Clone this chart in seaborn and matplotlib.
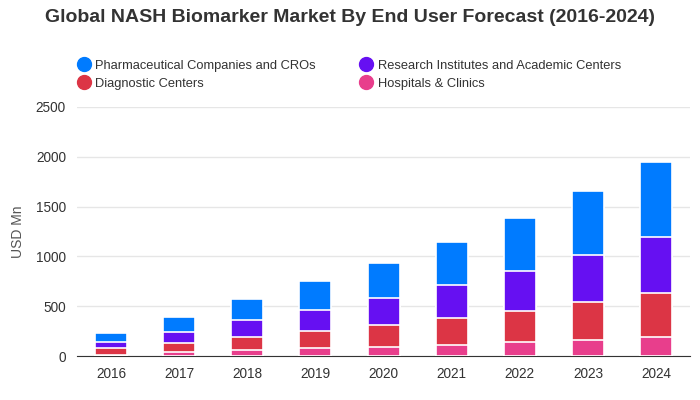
import matplotlib.pyplot as plt
import seaborn as sns
import pandas as pd
from matplotlib.lines import Line2D

years = ["2016", "2017", "2018", "2019", "2020", "2021", "2022", "2023", "2024"]
hospitals = [15, 37, 60, 77, 87, 107, 137, 158, 188]
diagnostic = [65, 90, 128, 174, 221, 271, 315, 381, 442]
research = [57, 111, 170, 208, 271, 332, 404, 478, 562]
pharma = [97, 154, 214, 294, 355, 435, 530, 640, 756]

series = ["Hospitals & Clinics", "Diagnostic Centers",
          "Research Institutes and Academic Centers", "Pharmaceutical Companies and CROs"]
colors = {"Hospitals & Clinics": "#E83E8C", "Diagnostic Centers": "#DC3545",
          "Research Institutes and Academic Centers": "#6610F2",
          "Pharmaceutical Companies and CROs": "#007BFF"}

df = pd.DataFrame({"year": years, "Hospitals & Clinics": hospitals,
                   "Diagnostic Centers": diagnostic,
                   "Research Institutes and Academic Centers": research,
                   "Pharmaceutical Companies and CROs": pharma})
cum = df[series].cumsum(axis=1)
cum["year"] = years

sns.set_style("white")
plt.rcParams["font.family"] = ["Liberation Sans", "DejaVu Sans"]

fig = plt.figure(figsize=(7, 4), dpi=100)
ax = fig.add_axes([0.11, 0.11, 0.876, 0.6225])

# draw from top of stack down so each lower layer covers the one above
for s in reversed(series):
    sns.barplot(data=cum, x="year", y=s, color=colors[s], width=0.47,
                edgecolor="white", linewidth=1.2, saturation=1, ax=ax, zorder=3)

ax.set_ylim(0, 2500)
ax.set_yticks(range(0, 2501, 500))
ax.grid(axis="y", color="#e6e6e6", linewidth=1, zorder=0)
ax.set_axisbelow(True)
for sp in ["left", "right", "top"]:
    ax.spines[sp].set_visible(False)
ax.spines["bottom"].set_color("#333333")
ax.tick_params(axis="both", length=0, labelsize=9.8, labelcolor="#333333", pad=8)
ax.set_xlabel("")
ax.set_ylabel("USD Mn", fontsize=10, color="#555555", labelpad=8)

fig.text(0.5, 0.955, "Global NASH Biomarker Market By End User Forecast (2016-2024)",
         ha="center", va="center", fontsize=14, fontweight="bold", color="#333333")

# column-major fill -> rows: pharma | research, diagnostic | hospitals
order = ["Pharmaceutical Companies and CROs", "Diagnostic Centers",
         "Research Institutes and Academic Centers", "Hospitals & Clinics"]
handles = [Line2D([0], [0], marker="o", linestyle="", markersize=10,
                  markerfacecolor=colors[s], markeredgecolor=colors[s]) for s in order]
fig.legend(handles, order, loc="upper left", bbox_to_anchor=(0.092, 0.88), ncol=2,
           frameon=False, fontsize=9.3, handletextpad=0.3, columnspacing=3.3,
           labelspacing=0.45, handlelength=1.2, labelcolor="#333333")

fig.savefig("out.png", dpi=100)
